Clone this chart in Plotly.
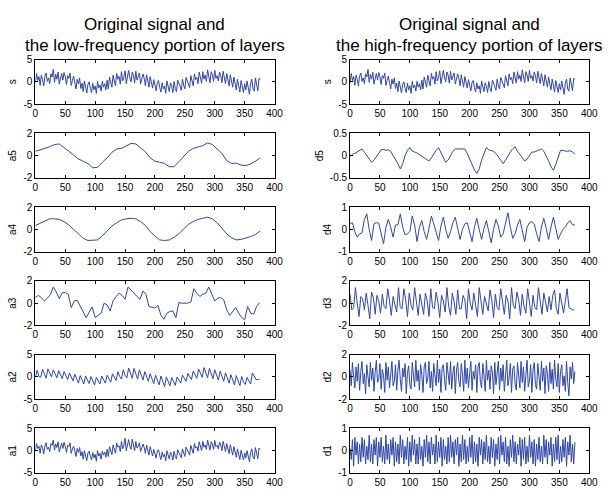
import plotly.graph_objects as go

# ---------------- data (sample index) ----------------
s_step = 2
s_vals = [
-0.2, 1.9, 0.3, 1.2, -0.8, 1.5, 0.6, -0.9, 1.3, 2.0, 0.1, 0.9, -0.4, 1.8, 1.1, 2.8, -0.1,
1.7, 0.6, 2.2, -0.5, 0.9, 1.9, 0.4, 2.1, 1.2, -0.6, 1.4, 0.8, 2.0, -0.8, 0.3,
1.3, -0.2, -1.6, 0.6, -0.5, 0.9, -1.5, -0.3, -2.2, 0.2, -1.0, -2.5, -0.6, 0.0, -1.5, -2.4,
-0.3, -1.8, -0.9, -2.6, 0.1, -1.4, -0.7, -2.1, 0.1, -1.2, -0.4, -1.8, 0.4, -1.6, 1.1, -0.2,
-1.2, 1.5, 0.4, -0.9, 1.9, 0.6, 1.2, -0.5, 2.3, 0.2, 1.0, 2.5, -0.4, 1.6, 2.6, 0.9,
0.0, 2.2, 1.5, -0.3, 2.4, 0.4, 1.1, 2.0, -0.5, 1.0, 1.8, 0.8, -0.9, 1.6, 0.1, -1.2,
1.2, -0.2, -1.4, 0.5, -0.8, -2.0, -0.1, 0.3, -1.3, -2.3, -0.2, -1.6, -0.9, -2.6, 0.2, -1.4,
-2.2, -0.2, -1.0, -2.4, 0.1, -1.5, -2.2, 0.4, -0.6, -1.0, -1.9, 0.6, -0.8, -1.6, 1.0, 0.2,
-0.3, -1.3, 1.4, 0.3, -0.9, 1.8, 0.5, 1.0, -0.4, 2.2, 1.0, -0.3, 2.3, 0.6, 1.5, 0.1,
2.7, 1.0, -0.2, 2.3, 1.6, 0.1, 2.6, 0.8, 1.4, 0.2, 2.2, 1.4, -0.2, 2.4, 0.6, -0.4,
1.9, 0.3, -0.9, 1.6, 0.2, -1.2, 1.1, -0.5, -1.8, 0.6, -1.1, -2.3, 0.3, -1.2, -2.4, -0.4,
-1.8, 0.2, -1.5, -2.8, -0.3, 0.6, -1.6, -2.1, 0.9, -0.6, -2.0, 0.8, 0.5]

a5_step = 8
a5_vals = [0.40, 0.50, 0.65, 0.80, 1.00, 1.05, 0.75, 0.40, 0.05, -0.30, -0.50, -0.72,
           -1.10, -1.05, -0.60, -0.20, 0.30, 0.60, 0.65, 0.85, 1.10, 1.05, 0.70, 0.35,
           -0.20, -0.50, -0.60, -0.70, -1.00, -1.00, -0.55, -0.10, 0.40, 0.65, 0.75, 0.90,
           1.15, 1.00, 0.60, 0.20, -0.45, -0.70, -0.68, -0.85, -0.90, -0.75, -0.50, -0.20]

a4_step = 8
a4_vals = [0.35, 0.55, 0.80, 0.95, 0.95, 0.90, 0.70, 0.40, 0.00, -0.40, -0.80, -1.00,
           -1.00, -0.95, -0.60, -0.15, 0.30, 0.60, 0.85, 0.95, 1.00, 0.95, 0.70, 0.35,
           -0.20, -0.60, -0.95, -1.00, -0.95, -0.70, -0.40, 0.05, 0.45, 0.70, 0.90, 1.00,
           1.10, 0.95, 0.60, 0.10, -0.40, -0.75, -0.95, -0.90, -0.80, -0.65, -0.45, -0.15]

a3_step = 5
a3_vals = [0.50, 0.70, 0.50, 0.20, 0.45, 0.75, 1.45, 1.00, 0.40, 0.95, 0.95, 0.80,
           -0.40, 0.20, 0.25, -0.30, -0.80, -1.30, -0.80, -0.35, -1.30, -1.10, -0.90, 0.00,
           -0.15, -0.70, 0.20, 0.60, 0.90, 0.70, 0.35, 1.45, 1.20, 0.90, 0.60, 0.35,
           1.10, 0.80, -0.30, -0.40, -0.45, -0.20, -1.10, -1.45, -0.90, -0.75, -0.70, -1.30,
           0.05, 0.00, 0.00, 0.00, 0.10, 1.30, 0.90, 0.60, 0.80, 0.90, 1.45, 0.80,
           0.20, 0.45, 0.50, 0.30, -0.60, -1.10, -0.80, -0.40, -0.90, -1.30, -1.50, -0.30,
           -0.90, -1.00, -0.30, 0.05]

a2_step = 3
a2_vals = [
0.0, 1.5, 0.1, -0.1, 1.7, 0.6, -0.3, 1.8, 0.8, 0.0, 1.6, 0.5, -0.2, 1.4, 0.4,
-0.4, 1.2, 0.2, -0.6, 0.9, -0.1, -0.9, 0.6, -0.4, -1.4, 0.3, -0.6, -1.6, 0.2, -0.7,
-1.5, 0.1, -0.9, -1.8, -0.1, -1.0, -1.6, 0.2, -0.6, -1.4, 0.4, -0.5, -1.2, 0.7, -0.2,
-0.8, 1.2, 0.1, -0.5, 1.6, 0.4, -0.2, 2.0, 0.7, -0.3, 1.9, 0.6, -0.5, 1.6, 0.3,
-0.7, 1.2, 0.0, -1.0, 0.7, -0.3, -1.5, 0.4, -0.7, -1.8, 0.2, -0.9, -2.2, 0.0, -1.1,
-2.0, -0.1, -1.2, -1.9, 0.0, -0.8, -1.4, 0.4, -0.5, -1.0, 0.8, -0.1, -0.6, 1.3, 0.3,
-0.3, 1.8, 0.6, -0.1, 2.1, 0.8, -0.2, 1.9, 0.5, -0.4, 1.6, 0.2, -0.7, 1.3, 0.0,
-1.0, 0.9, -0.4, -1.4, 0.5, -0.8, -1.8, 0.3, -1.0, -2.0, 0.1, -1.1, -1.7, -0.1, -0.9,
-1.6, 0.9, 0.0, -0.6, -0.6, -0.5]

a1_step = 2
a1_vals = [
0.0, 1.6, 0.5, 1.0, -0.6, 1.3, 0.7, -0.7, 1.1, 1.8, 0.3, 0.8, -0.2, 1.6, 1.2, 2.4, 0.1,
1.5, 0.7, 2.0, -0.3, 0.8, 1.7, 0.5, 1.9, 1.0, -0.4, 1.2, 0.9, 1.8, -0.6, 0.4,
1.0, 0.0, -1.3, 0.5, -0.4, 0.7, -1.2, -0.2, -1.9, 0.0, -0.9, -2.2, -0.5, -0.1, -1.3, -2.1,
-0.4, -1.6, -0.8, -2.4, 0.0, -1.2, -0.6, -1.9, -0.1, -1.0, -0.3, -1.5, 0.3, -1.3, 0.9, -0.1,
-0.9, 1.3, 0.5, -0.6, 1.7, 0.8, 1.1, -0.2, 2.1, 0.4, 1.2, 2.8, 0.0, 1.5, 2.5, 1.0,
0.3, 2.6, 1.3, 0.0, 2.1, 0.6, 1.0, 1.8, -0.2, 0.9, 1.5, 0.7, -0.6, 1.3, 0.2, -1.0,
0.9, -0.1, -1.2, 0.3, -0.7, -1.7, 0.0, 0.2, -1.1, -2.0, -0.3, -1.4, -0.8, -2.3, 0.0, -1.2,
-1.9, -0.3, -0.9, -2.1, -0.1, -1.3, -1.9, 0.2, -0.5, -0.9, -1.6, 0.4, -0.7, -1.3, 0.8, 0.1,
-0.2, -1.0, 1.2, 0.4, -0.6, 1.6, 0.6, 0.9, -0.1, 2.0, 1.1, 0.0, 2.1, 0.8, 1.3, 0.3,
2.4, 1.1, 0.1, 2.0, 1.5, 0.3, 2.3, 0.9, 1.2, 0.4, 1.9, 1.3, 0.0, 2.1, 0.7, -0.2,
1.6, 0.4, -0.7, 1.3, 0.3, -1.0, 0.9, -0.3, -1.5, 0.4, -0.9, -2.0, 0.1, -1.0, -2.1, -0.5,
-1.6, 0.0, -1.3, -2.5, -0.4, 0.4, -1.4, -1.9, 0.7, -0.5, -1.8, 0.6, 0.3]

d5_step = 4
d5_vals = [
-0.02, 0.03, 0.05, 0.08, 0.12, 0.15, 0.08, 0.00, -0.08, -0.15, -0.10, -0.02, 0.05, 0.13,
0.14, 0.12, 0.13, 0.10, 0.00, -0.08, -0.18, -0.30, -0.18, 0.00, 0.12, 0.18, 0.10, 0.08,
0.06, 0.02, -0.02, -0.06, -0.10, -0.12, -0.05, 0.05, 0.12, 0.18, 0.08, -0.05, -0.15, -0.10,
0.00, 0.10, 0.15, 0.15, 0.14, 0.15, 0.15, 0.05, -0.08, -0.20, -0.32, -0.40, -0.30, -0.10,
0.05, 0.18, 0.13, 0.12, 0.10, 0.05, -0.02, -0.10, -0.18, -0.10, 0.00, 0.08, 0.15, 0.20,
0.10, 0.02, -0.05, -0.12, -0.08, 0.00, 0.08, 0.08, 0.10, 0.12, 0.15, 0.10, 0.00, -0.12,
-0.25, -0.33, -0.20, -0.05, 0.12, 0.12, 0.10, 0.10, 0.11, 0.08, 0.04]

d4_step = 4
d4_vals = [
0.25, 0.30, -0.10, -0.35, -0.20, -0.15, 0.45, 0.70, 0.00, -0.50, 0.25, 0.30, 0.28, -0.20,
-0.65, 0.10, 0.45, 0.10, -0.35, 0.20, 0.20, 0.70, 0.10, -0.25, -0.20, -0.10, 0.60, 0.20,
-0.55, 0.10, 0.40, -0.10, -0.45, 0.05, 0.60, 0.25, -0.10, -0.50, 0.15, 0.55, 0.00, -0.40,
-0.10, 0.30, 0.55, 0.00, -0.45, 0.00, 0.25, 0.30, -0.20, -0.55, 0.10, 0.50, 0.00, -0.45,
0.05, 0.40, -0.10, -0.60, 0.00, 0.45, 0.15, -0.35, -0.20, 0.25, 0.75, 0.10, -0.40, -0.20,
0.20, 0.45, -0.05, -0.55, 0.10, 0.30, 0.35, 0.25, -0.20, -0.55, 0.10, 0.50, 0.05, -0.45,
0.10, 0.55, 0.05, -0.45, -0.20, 0.00, 0.10, 0.30, 0.40, 0.20, 0.20]

d3_step = 3
d3_vals = [
0.8, -0.6, -0.4, 1.4, 0.0, -1.2, 0.6, 0.4, -0.6, 0.9, -0.2, -1.4, 1.0, 0.5, -1.0,
0.7, 0.2, -0.9, 0.8, -0.3, -0.5, 1.3, 0.2, -1.1, 0.6, 0.0, -0.8, 1.4, -0.4, -0.5,
1.3, 0.3, -1.2, 0.9, -0.2, -0.6, 1.4, 0.1, -1.1, 0.8, -0.3, -1.0, 0.9, 0.2, -1.2,
1.3, -0.4, -0.5, 1.0, 0.1, -1.3, 0.7, 0.2, -0.8, 1.4, -0.3, -1.1, 0.9, 0.1, -1.0,
1.2, -0.5, -0.5, 0.7, 0.3, -1.4, 1.3, 0.0, -0.6, 0.9, -0.2, -1.2, 1.4, 0.2, -1.0,
0.6, -0.1, -0.7, 1.2, 0.3, -1.3, 0.8, -0.4, -0.6, 1.3, 0.0, -1.0, 0.7, 0.2, -1.4,
1.4, -0.2, -0.5, 1.0, 0.3, -1.1, 0.8, -0.3, -0.9, 1.3, 0.1, -1.2, 0.7, -0.4, -0.6,
1.4, 0.2, -1.0, 0.9, 0.0, -0.8, 0.6, -0.6, 0.7, 1.2, -0.5, -1.0, 0.9, 0.1, -0.9,
0.2, 1.3, -0.4, -0.5, -0.6, -0.6]

d2_step = 2
d2_vals = [
0.6, -0.8, 1.3, 0.2, -1.0, 0.9, -0.4, 1.2, -1.2, 0.5, 1.4, -0.6, 0.3, -1.5, 1.1, 0.0, -0.9, 1.3, -0.3, 0.8,
-1.3, 0.4, 1.5, -0.5, -0.2, 1.2, -1.1, 0.7, 0.1, -1.4, 1.3, -0.3, 0.9, -1.0, 0.2, 1.4, -0.8, -0.4, 1.1, -1.2,
0.6, 1.5, -0.2, -1.3, 0.8, 0.0, 1.2, -1.5, 0.4, 1.0, -0.7, -1.1, 1.3, 0.3, -0.9, 1.5, -0.4, 0.6, -1.2, 1.1,
0.2, -1.4, 0.9, 1.3, -0.6, -0.1, 1.4, -1.0, 0.5, -1.3, 1.2, 0.1, -0.8, 1.5, -0.5, 0.7, -1.4, 0.9, 1.1, -0.3,
-1.2, 1.3, 0.0, -0.7, 1.4, -1.1, 0.4, 1.0, -1.5, 0.6, 1.3, -0.4, -0.9, 1.2, 0.2, -1.3, 1.5, -0.6, 0.8, -1.0,
0.3, 1.4, -1.2, 0.5, -0.2, 1.1, -1.4, 0.9, 1.3, -0.5, -1.0, 1.2, 0.1, -1.3, 1.5, -0.3, 0.6, -1.1, 1.0, 0.4,
-1.5, 1.3, -0.7, 0.2, 1.4, -1.2, 0.8, -0.4, 1.1, -1.3, 0.5, 1.5, -0.8, -0.1, 1.2, -1.4, 0.7, 1.0, -0.6, -1.2,
1.3, 0.3, -1.0, 1.4, -0.5, 0.9, -1.3, 0.2, 1.5, -0.9, -0.3, 1.1, -1.4, 0.6, 1.3, -0.7, -1.1, 1.2, 0.0, -1.2,
1.4, -0.4, 0.8, -1.5, 1.0, 0.3, -1.3, 1.3, -0.6, 0.7, -1.1, 1.5, -0.2, -0.9, 1.2, -1.4, 0.5, 1.1, -0.8, 0.1,
-1.3, 1.4, -0.5, -1.7, 0.9, -0.2, 1.3, -0.6, 0.5]

d1_step = 2
d1_vals = [
0.1, -0.4, 0.5, -0.7, 0.6, -0.2, 0.4, -0.6, 0.3, -0.5, 0.6, -0.3, 0.5, -0.6, 0.2, -0.4, 0.7, -0.5, 0.3, -0.6,
0.5, -0.2, 0.6, -0.7, 0.4, -0.3, 0.6, -0.5, 0.2, -0.6, 0.7, -0.4, 0.3, -0.6, 0.5, -0.2, 0.6, -0.7, 0.4, -0.5,
0.3, -0.6, 0.7, -0.3, 0.5, -0.6, 0.2, -0.4, 0.6, -0.7, 0.4, -0.5, 0.7, -0.2, 0.5, -0.6, 0.3, -0.6, 0.6, -0.4,
0.2, -0.7, 0.5, -0.3, 0.7, -0.5, 0.4, -0.6, 0.6, -0.2, 0.3, -0.6, 0.7, -0.5, 0.4, -0.3, 0.6, -0.7, 0.5, -0.4,
0.2, -0.6, 0.6, -0.5, 0.7, -0.3, 0.4, -0.6, 0.5, -0.2, 0.6, -0.7, 0.3, -0.5, 0.7, -0.4, 0.5, -0.6, 0.2, -0.5,
0.6, -0.3, 0.7, -0.6, 0.4, -0.5, 0.3, -0.7, 0.6, -0.2, 0.5, -0.6, 0.4, -0.4, 0.7, -0.5, 0.2, -0.6, 0.6, -0.3,
0.5, -0.7, 0.3, -0.4, 0.6, -0.6, 0.7, -0.2, 0.4, -0.5, 0.6, -0.6, 0.2, -0.7, 0.5, -0.3, 0.7, -0.5, 0.4, -0.6,
0.3, -0.2, 0.6, -0.7, 0.5, -0.4, 0.6, -0.6, 0.2, -0.5, 0.7, -0.3, 0.4, -0.6, 0.5, -0.7, 0.3, -0.4, 0.6, -0.5,
0.2, -0.6, 0.7, -0.3, 0.5, -0.6, 0.4, -0.2, 0.6, -0.7, 0.3, -0.5, 0.6, -0.4, 0.7, -0.6, 0.2, -0.5, 0.5, -0.3,
0.6, -0.7, 0.4, -0.2, 0.7, -0.5, 0.3, -0.6, 0.4]

x_ticks = [0, 50, 100, 150, 200, 250, 300, 350, 400]
titles = ["Original signal and<br>the low-frequency portion of layers",
          "Original signal and<br>the high-frequency portion of layers"]

left_panels = [("s", s_vals, s_step, 5), ("a5", a5_vals, a5_step, 2), ("a4", a4_vals, a4_step, 2),
               ("a3", a3_vals, a3_step, 2), ("a2", a2_vals, a2_step, 5), ("a1", a1_vals, a1_step, 5)]
right_panels = [("s", s_vals, s_step, 5), ("d5", d5_vals, d5_step, 0.5), ("d4", d4_vals, d4_step, 1),
                ("d3", d3_vals, d3_step, 2), ("d2", d2_vals, d2_step, 2), ("d1", d1_vals, d1_step, 1)]

# ---------------- layout ----------------
W, H = 611, 494
col_x = [(33, 277), (354, 598)]
row_top = [55 + 75.6 * i for i in range(6)]
row_h = 45.5
line_color = "#2f46a6"
font_family = "Liberation Sans, Arial, sans-serif"

fig = go.Figure()
layout = dict(width=W, height=H, margin=dict(l=0, r=0, t=0, b=0),
              paper_bgcolor="white", plot_bgcolor="white", showlegend=False,
              font=dict(family=font_family, size=10, color="black"))
annotations = []

n = 0
for c, panels in enumerate([left_panels, right_panels]):
    for r, (name, vals, step, lim) in enumerate(panels):
        n += 1
        xa = "xaxis" if n == 1 else f"xaxis{n}"
        ya = "yaxis" if n == 1 else f"yaxis{n}"
        xr = "x" if n == 1 else f"x{n}"
        yr = "y" if n == 1 else f"y{n}"
        xs = [i * step for i in range(len(vals))]
        fig.add_trace(go.Scatter(x=xs, y=vals, mode="lines", xaxis=xr, yaxis=yr,
                                 line=dict(color=line_color, width=1), hoverinfo="skip"))
        x0, x1 = col_x[c]
        t = row_top[r]
        layout[xa] = dict(domain=[x0 / W, x1 / W], anchor=yr, range=[0, 400],
                          tickvals=x_ticks, ticks="inside", ticklen=3, tickcolor="black",
                          showline=True, linecolor="black", linewidth=1, mirror="allticks",
                          showgrid=False, zeroline=False, tickfont=dict(size=10))
        layout[ya] = dict(domain=[1 - (t + row_h) / H, 1 - t / H], anchor=xr,
                          range=[-lim, lim], tickvals=[-lim, 0, lim],
                          ticktext=[f"{-lim:g}", "0", f"{lim:g}"],
                          ticks="inside", ticklen=3, tickcolor="black",
                          showline=True, linecolor="black", linewidth=1, mirror="allticks",
                          showgrid=False, zeroline=False, tickfont=dict(size=10),
                          title=dict(text=name, font=dict(size=10), standoff=4))

for c, txt in enumerate(titles):
    x0, x1 = col_x[c]
    l1, l2 = txt.split("<br>")
    cx = (x0 + x1) / 2 / W
    annotations.append(dict(text=l1, x=cx, y=1 - 18.5 / H, xref="paper", yref="paper",
                            xanchor="center", yanchor="middle", showarrow=False,
                            font=dict(size=17, family=font_family, color="black")))
    annotations.append(dict(text=l2, x=cx, y=1 - 40.5 / H, xref="paper", yref="paper",
                            xanchor="center", yanchor="middle", showarrow=False,
                            font=dict(size=17, family=font_family, color="black")))

layout["annotations"] = annotations
fig.update_layout(**layout)
fig.write_html("out.html")
